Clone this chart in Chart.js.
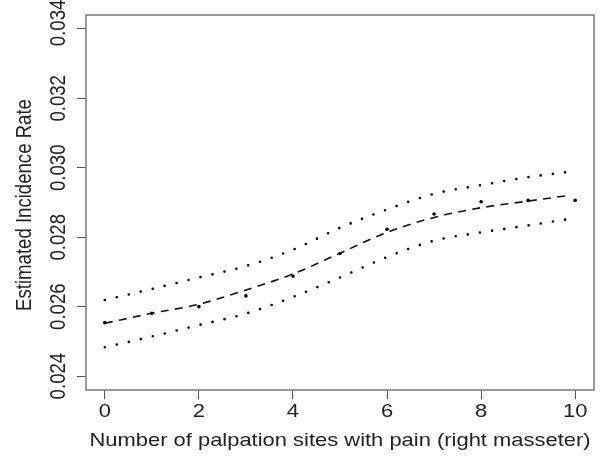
<!DOCTYPE html>
<html>
<head>
<meta charset="utf-8">
<script src="https://cdn.jsdelivr.net/npm/chart.js@4"></script>
<style>
  body { margin: 0; background: #fff; }
  canvas { display: block; }
</style>
</head>
<body>
<canvas id="chart" width="615" height="457"></canvas>
<script>
// smoothed fit + confidence band (x runs 0 .. ~9.85)
const fitX = [0, 1, 2, 3, 4, 5, 6, 7, 8, 9, 9.85];
const fitted = [0.02552, 0.02581, 0.02607, 0.02648, 0.02694, 0.02754, 0.02814, 0.02857, 0.02885, 0.02904, 0.0292];
const upper = [0.02619, 0.02651, 0.02684, 0.02717, 0.02764, 0.02827, 0.0288, 0.02925, 0.0295, 0.02973, 0.02988];
const lower = [0.02483, 0.02514, 0.02547, 0.0258, 0.02628, 0.02684, 0.02743, 0.0279, 0.02814, 0.02834, 0.02852];

// observed rates per number of sites
const sites = [0, 1, 2, 3, 4, 5, 6, 7, 8, 9, 10];
const observed = [0.02554, 0.02581, 0.026, 0.02631, 0.02688, 0.02753, 0.02823, 0.02867, 0.02902, 0.02906, 0.02906];

const xTicks = [0, 2, 4, 6, 8, 10];
const yTicks = [0.024, 0.026, 0.028, 0.030, 0.032, 0.034];
const yTickLabels = ["0.024", "0.026", "0.028", "0.030", "0.032", "0.034"];

const xTitle = "Number of palpation sites with pain (right masseter)";
const yTitle = "Estimated Incidence Rate";

const toPts = (xs, ys) => xs.map((x, i) => ({ x: x, y: ys[i] }));

const FONT = '18.6px "Liberation Sans", Arial, sans-serif';
const SX = 1.18; // the original is stretched sideways

function stretchedText(ctx, text, x, y, rotate) {
  ctx.save();
  ctx.translate(x, y);
  ctx.scale(SX, 1);
  if (rotate) ctx.rotate(-Math.PI / 2);
  ctx.fillText(text, 0, 0);
  ctx.restore();
}

const axisText = {
  id: "axisText",
  afterDraw(chart) {
    const ctx = chart.ctx;
    const a = chart.chartArea;
    const xs = chart.scales.x, ys = chart.scales.y;

    // box
    ctx.save();
    ctx.strokeStyle = "#777";
    ctx.lineWidth = 1.5;
    ctx.strokeRect(a.left, a.top, a.right - a.left, a.bottom - a.top);

    ctx.fillStyle = "#222";
    ctx.font = FONT;
    ctx.textAlign = "center";
    ctx.textBaseline = "alphabetic";

    xTicks.forEach(v => stretchedText(ctx, String(v), xs.getPixelForValue(v), 416.7, false));
    yTicks.forEach((v, i) => {
      let py = ys.getPixelForValue(v);
      if (i === yTicks.length - 1) py -= 6;
      stretchedText(ctx, yTickLabels[i], 65, py, true);
    });

    stretchedText(ctx, xTitle, (a.left + a.right) / 2, 446, false);
    stretchedText(ctx, yTitle, 31, 205, true);
    ctx.restore();
  }
};

new Chart(document.getElementById("chart"), {
  type: "line",
  data: {
    datasets: [
      {
        data: toPts(fitX, upper),
        borderColor: "#000",
        borderWidth: 2.6,
        borderDash: [0, 12.3],
        borderCapStyle: "round",
        pointRadius: 0,
        cubicInterpolationMode: "monotone",
        fill: false
      },
      {
        data: toPts(fitX, lower),
        borderColor: "#000",
        borderWidth: 2.6,
        borderDash: [0, 12.3],
        borderCapStyle: "round",
        pointRadius: 0,
        cubicInterpolationMode: "monotone",
        fill: false
      },
      {
        data: toPts(fitX, fitted),
        borderColor: "#111",
        borderWidth: 1.6,
        borderDash: [8, 6.3],
        pointRadius: 0,
        cubicInterpolationMode: "monotone",
        fill: false
      },
      {
        type: "scatter",
        data: toPts(sites, observed),
        showLine: false,
        pointRadius: 1.8,
        pointBackgroundColor: "#000",
        pointBorderWidth: 0
      }
    ]
  },
  options: {
    responsive: false,
    devicePixelRatio: 1,
    animation: false,
    layout: { padding: { top: 15, right: 21, left: 0, bottom: 0 } },
    plugins: { legend: { display: false }, tooltip: { enabled: false } },
    scales: {
      x: {
        type: "linear",
        min: -0.4,
        max: 10.4,
        afterBuildTicks: axis => { axis.ticks = xTicks.map(v => ({ value: v })); },
        afterFit: scale => { scale.height = 67; },
        ticks: { display: false },
        grid: { drawOnChartArea: false, drawTicks: true, tickLength: 9, color: "#555", lineWidth: 1 },
        border: { display: false }
      },
      y: {
        type: "linear",
        min: 0.0236,
        max: 0.0344,
        afterBuildTicks: axis => { axis.ticks = yTicks.map(v => ({ value: v })); },
        afterFit: scale => { scale.width = 86; },
        ticks: { display: false },
        grid: { drawOnChartArea: false, drawTicks: true, tickLength: 9, color: "#555", lineWidth: 1 },
        border: { display: false }
      }
    }
  },
  plugins: [axisText]
});
</script>
</body>
</html>
